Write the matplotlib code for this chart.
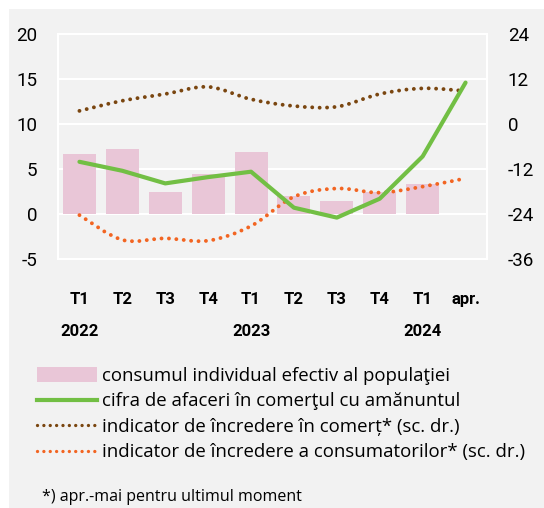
import matplotlib
matplotlib.use("Agg")
import matplotlib.pyplot as plt
from matplotlib.path import Path
from matplotlib.patches import PathPatch, Patch, Rectangle
from matplotlib.lines import Line2D
import matplotlib.transforms as mtransforms

plt.rcParams["axes.unicode_minus"] = False

quarters = ["T1", "T2", "T3", "T4", "T1", "T2", "T3", "T4", "T1", "apr."]
years = {0: "2022", 4: "2023", 8: "2024"}

consum = [6.7, 7.2, 2.4, 4.5, 6.9, 2.0, 1.4, 2.5, 3.3]
cifra_afaceri = [5.8, 4.8, 3.4, 4.1, 4.7, 0.7, -0.4, 1.7, 6.4, 14.6]
incredere_comert = [3.5, 6.2, 8.0, 9.9, 6.6, 4.8, 4.6, 8.0, 9.5, 8.8]
incredere_consum = [-24.3, -30.9, -30.5, -31.1, -27.2, -19.4, -17.2, -18.3, -16.7, -14.5]

labels = [
    "consumul individual efectiv al populaţiei",
    "cifra de afaceri în comerţul cu amănuntul",
    "indicator de încredere în comerț* (sc. dr.)",
    "indicator de încredere a consumatorilor* (sc. dr.)",
]

c_bar = "#e9c6d7"
c_green = "#72bf44"
c_brown = "#7a4610"
c_orange = "#f26522"
bg = "#f2f2f2"
tick_font = ["Roboto", "DejaVu Sans"]
text_font = ["Open Sans", "DejaVu Sans"]


def smooth_path(xs, ys):
    # excel-like smoothed line as cubic bezier through the points
    pts = list(zip(xs, ys))
    verts = [pts[0]]
    codes = [Path.MOVETO]
    n = len(pts)
    for i in range(n - 1):
        p0 = pts[i - 1] if i > 0 else pts[i]
        p1 = pts[i]
        p2 = pts[i + 1]
        p3 = pts[i + 2] if i + 2 < n else pts[i + 1]
        c1 = (p1[0] + (p2[0] - p0[0]) / 6, p1[1] + (p2[1] - p0[1]) / 6)
        c2 = (p2[0] - (p3[0] - p1[0]) / 6, p2[1] - (p3[1] - p1[1]) / 6)
        verts += [c1, c2, p2]
        codes += [Path.CURVE4] * 3
    return Path(verts, codes)


fig = plt.figure(figsize=(5.44, 5.08), dpi=100)
fig.patch.set_facecolor("white")
fig.add_artist(Rectangle((9 / 544, 0), 1, 1 - 9 / 508, transform=fig.transFigure,
                         facecolor=bg, edgecolor="none", zorder=-10))

ax = fig.add_axes([58 / 544, 1 - 259 / 508, (487 - 58) / 544, (259 - 34) / 508])
ax.set_facecolor(bg)
ax2 = ax.twinx()

x = list(range(len(quarters)))
ax.bar(x[:len(consum)], consum, width=0.77, color=c_bar, zorder=2)
ax.plot(x, cifra_afaceri, color=c_green, lw=3, zorder=5, solid_capstyle="round")

ax.set_xlim(-0.5, 9.5)
ax.set_ylim(-5, 20)
ax.set_yticks([-5, 0, 5, 10, 15, 20])
ax2.set_ylim(-36, 24)
ax2.set_yticks([-36, -24, -12, 0, 12, 24])
ax.grid(axis="y", color="white", lw=1.5, zorder=0)
ax.set_axisbelow(True)

for a in (ax, ax2):
    for s in a.spines.values():
        s.set_color("white")
        s.set_linewidth(1.5)
    a.tick_params(length=0)

ax.tick_params(axis="y", pad=15)
ax2.tick_params(axis="y", pad=15)
ax.set_xticks(x)
ax.set_xticklabels(quarters)
ax.tick_params(axis="x", pad=24)
for lab in ax.get_yticklabels() + ax2.get_yticklabels():
    lab.set_fontfamily(tick_font)
    lab.set_fontsize(13.5)
for lab in ax.get_xticklabels():
    lab.set_fontfamily(tick_font)
    lab.set_fontweight("bold")
    lab.set_fontsize(12)

trans = mtransforms.blended_transform_factory(ax.transData, fig.transFigure)
for i, yr in years.items():
    ax.text(i, 1 - 332 / 508, yr, transform=trans, ha="center", va="center",
            fontsize=12, fontweight="bold", family=tick_font)

ax.set_zorder(ax2.get_zorder() + 1)
ax2.patch.set_visible(False)
# right-axis lines drawn on ax with ax2's transform, so they sit above the bars
for vals, col in [(incredere_comert, c_brown), (incredere_consum, c_orange)]:
    p = PathPatch(smooth_path(x, vals), transform=ax2.transData, facecolor="none",
                  edgecolor=col, lw=2.8, linestyle=(0, (0.01, 1.9)), capstyle="round",
                  zorder=4)
    ax.add_patch(p)

handles = [
    Patch(facecolor=c_bar, edgecolor="none"),
    Line2D([], [], color=c_green, lw=3),
    Line2D([], [], color=c_brown, lw=2.4, linestyle=(0, (0.01, 1.9)), dash_capstyle="round"),
    Line2D([], [], color=c_orange, lw=2.4, linestyle=(0, (0.01, 1.9)), dash_capstyle="round"),
]
leg = fig.legend(handles, labels, loc="upper left", bbox_to_anchor=(37 / 544, 1 - 367 / 508),
                 frameon=False, prop={"family": text_font, "size": 13.4},
                 handlelength=3.2, handleheight=0.8, handletextpad=0.3, labelspacing=0.4,
                 borderaxespad=0, borderpad=0)

fig.text(42 / 544, 1 - 497 / 508, "*) apr.-mai pentru ultimul moment", ha="left", va="center",
         fontsize=11.5, family=text_font)

fig.savefig("out.png", dpi=100, facecolor=fig.get_facecolor())
